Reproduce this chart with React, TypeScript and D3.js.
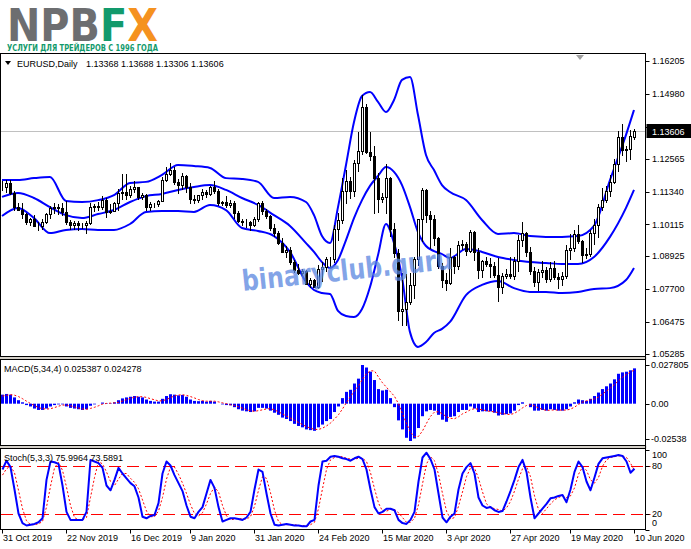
import * as d3 from "d3";

// daily EURUSD candles [open, high, low, close], 31 Oct 2019 .. 10 Jun 2020
const candles: [number, number, number, number][] = [
  [1.1152, 1.1175, 1.1139, 1.1152], [1.1152, 1.1177, 1.1133, 1.1166], [1.1166, 1.1176, 1.1125, 1.1129], [1.1129, 1.1135, 1.1064, 1.1075], [1.1075, 1.1092, 1.1064, 1.1066],
  [1.1066, 1.1092, 1.1036, 1.105], [1.105, 1.1055, 1.1014, 1.1019], [1.1019, 1.1036, 1.101, 1.1032], [1.1032, 1.1048, 1.101, 1.1007], [1.1007, 1.1022, 1.0989, 1.1006],
  [1.1006, 1.1032, 1.0994, 1.1022], [1.1022, 1.1055, 1.1015, 1.1052], [1.1052, 1.1079, 1.1036, 1.1072], [1.1072, 1.109, 1.1054, 1.1077], [1.1077, 1.1087, 1.1052, 1.1073],
  [1.1073, 1.109, 1.1048, 1.1057], [1.1057, 1.1097, 1.1014, 1.102], [1.102, 1.1028, 1.0994, 1.1011], [1.1011, 1.1025, 1.0996, 1.1016], [1.1016, 1.1023, 1.0992, 1.1009],
  [1.1009, 1.1017, 1.0998, 1.1008], [1.1008, 1.1023, 1.0981, 1.1017], [1.1017, 1.109, 1.1012, 1.1078], [1.1078, 1.1088, 1.106, 1.1081], [1.1081, 1.1095, 1.1066, 1.1077],
  [1.1077, 1.1117, 1.107, 1.1104], [1.1104, 1.1111, 1.104, 1.1058], [1.1058, 1.1089, 1.1054, 1.1063], [1.1063, 1.1096, 1.106, 1.1092], [1.1092, 1.1145, 1.1066, 1.113],
  [1.113, 1.12, 1.1107, 1.1131], [1.1131, 1.1199, 1.1107, 1.1121], [1.1121, 1.1154, 1.1115, 1.1144], [1.1144, 1.1174, 1.1134, 1.115], [1.115, 1.1152, 1.1106, 1.1112],
  [1.1112, 1.113, 1.1107, 1.1121], [1.1121, 1.1126, 1.1066, 1.1078], [1.1078, 1.1094, 1.1065, 1.1087], [1.1087, 1.1093, 1.1077, 1.1088], [1.1088, 1.1104, 1.1081, 1.11],
  [1.11, 1.1188, 1.1099, 1.1176], [1.1176, 1.1227, 1.1172, 1.1199], [1.1199, 1.1239, 1.1195, 1.1213], [1.1213, 1.1226, 1.1163, 1.1171], [1.1171, 1.118, 1.1128, 1.116],
  [1.116, 1.1204, 1.1145, 1.1193], [1.1193, 1.1197, 1.1134, 1.1152], [1.1152, 1.1166, 1.1092, 1.1106], [1.1106, 1.112, 1.1093, 1.1104], [1.1104, 1.1122, 1.1096, 1.112],
  [1.112, 1.1144, 1.1106, 1.1133], [1.1133, 1.114, 1.1113, 1.1126], [1.1126, 1.1153, 1.112, 1.115], [1.115, 1.1172, 1.113, 1.1136], [1.1136, 1.1142, 1.1083, 1.1092],
  [1.1092, 1.11, 1.1082, 1.1095], [1.1095, 1.1118, 1.1078, 1.1082], [1.1082, 1.1104, 1.1078, 1.1093], [1.1093, 1.1098, 1.1036, 1.1053], [1.1053, 1.1063, 1.1019, 1.1025],
  [1.1025, 1.1032, 1.101, 1.1019], [1.1019, 1.103, 1.1002, 1.1021], [1.1021, 1.1025, 1.0992, 1.1009], [1.1009, 1.104, 1.1004, 1.1031], [1.1031, 1.1096, 1.1025, 1.1093],
  [1.1093, 1.11, 1.105, 1.1061], [1.1061, 1.107, 1.1036, 1.1043], [1.1043, 1.1046, 1.0992, 1.0999], [1.0999, 1.1013, 1.0968, 1.098], [1.098, 1.0987, 1.094, 1.0944],
  [1.0944, 1.096, 1.0907, 1.091], [1.091, 1.0932, 1.089, 1.0916], [1.0916, 1.0927, 1.0865, 1.0872], [1.0872, 1.0877, 1.0833, 1.084], [1.084, 1.0864, 1.0827, 1.0831],
  [1.0831, 1.0847, 1.0822, 1.0837], [1.0837, 1.0843, 1.0789, 1.079], [1.079, 1.0812, 1.0779, 1.0803], [1.0803, 1.0807, 1.0778, 1.078], [1.078, 1.0862, 1.0775, 1.0847],
  [1.0847, 1.0871, 1.0801, 1.0853], [1.0853, 1.089, 1.0838, 1.0882], [1.0882, 1.0891, 1.0853, 1.0881], [1.0881, 1.1008, 1.0872, 1.0995], [1.0995, 1.1053, 1.0952, 1.1027],
  [1.1027, 1.1186, 1.1015, 1.1137], [1.1137, 1.1213, 1.1092, 1.1175], [1.1175, 1.119, 1.111, 1.1135], [1.1135, 1.125, 1.1118, 1.1239], [1.1239, 1.1356, 1.121, 1.1284],
  [1.1284, 1.1495, 1.1275, 1.145], [1.145, 1.146, 1.1276, 1.1283], [1.1283, 1.1355, 1.1253, 1.1267], [1.1267, 1.1305, 1.1055, 1.1183], [1.1183, 1.1204, 1.1056, 1.1107],
  [1.1107, 1.113, 1.1095, 1.1115], [1.1115, 1.1236, 1.1055, 1.1183], [1.1183, 1.119, 1.097, 1.0995], [1.0995, 1.1015, 1.089, 1.0905], [1.0905, 1.092, 1.0654, 1.069],
  [1.069, 1.0832, 1.0636, 1.0695], [1.0695, 1.0828, 1.0636, 1.0722], [1.0722, 1.083, 1.0715, 1.0785], [1.0785, 1.089, 1.0736, 1.0884], [1.0884, 1.1032, 1.0862, 1.103],
  [1.103, 1.1148, 1.095, 1.114], [1.114, 1.1145, 1.102, 1.1045], [1.1045, 1.1061, 1.0925, 1.1032], [1.1032, 1.1045, 1.0935, 1.0962], [1.0962, 1.0966, 1.085, 1.0856],
  [1.0856, 1.0868, 1.0777, 1.0805], [1.0805, 1.083, 1.0768, 1.0794], [1.0794, 1.0925, 1.079, 1.0891], [1.0891, 1.0894, 1.0831, 1.0856], [1.0856, 1.0951, 1.0845, 1.0936],
  [1.0936, 1.0953, 1.0918, 1.0937], [1.0937, 1.0947, 1.0898, 1.0914], [1.0914, 1.099, 1.091, 1.0985], [1.0985, 1.0988, 1.088, 1.0908], [1.0908, 1.0925, 1.0812, 1.0842],
  [1.0842, 1.088, 1.0815, 1.0874], [1.0874, 1.089, 1.0855, 1.0863], [1.0863, 1.0887, 1.0815, 1.0856], [1.0856, 1.0873, 1.0816, 1.0823], [1.0823, 1.0888, 1.0727, 1.0777],
  [1.0777, 1.0829, 1.0757, 1.082], [1.082, 1.0846, 1.0812, 1.0826], [1.0826, 1.089, 1.0813, 1.0821], [1.0821, 1.0889, 1.0808, 1.0875], [1.0875, 1.0973, 1.0836, 1.0954],
  [1.0954, 1.1019, 1.0932, 1.0981], [1.0981, 1.0984, 1.0895, 1.0909], [1.0909, 1.0927, 1.0825, 1.0839], [1.0839, 1.0854, 1.0782, 1.0797], [1.0797, 1.0847, 1.0767, 1.0834],
  [1.0834, 1.0876, 1.0815, 1.084], [1.084, 1.0852, 1.0795, 1.0808], [1.0808, 1.0873, 1.08, 1.085], [1.085, 1.0876, 1.0809, 1.0815], [1.0815, 1.083, 1.0774, 1.0807],
  [1.0807, 1.0833, 1.0786, 1.0819], [1.0819, 1.0933, 1.0811, 1.0917], [1.0917, 1.0977, 1.0883, 1.0923], [1.0923, 1.0991, 1.0914, 1.0975], [1.0975, 1.1009, 1.0943, 1.095],
  [1.095, 1.0955, 1.0872, 1.0899], [1.0899, 1.0923, 1.0887, 1.0901], [1.0901, 1.0991, 1.0895, 1.0978], [1.0978, 1.103, 1.0937, 1.1008], [1.1008, 1.1088, 1.0966, 1.1078],
  [1.1078, 1.1147, 1.1067, 1.1101], [1.1101, 1.1155, 1.1094, 1.1135], [1.1135, 1.1197, 1.1118, 1.117], [1.117, 1.1257, 1.1165, 1.1235], [1.1235, 1.1361, 1.1212, 1.1337],
  [1.1337, 1.1384, 1.127, 1.129], [1.129, 1.1302, 1.1247, 1.1294], [1.1294, 1.1362, 1.1255, 1.1342], [1.13368, 1.13688, 1.13306, 1.13606],
];

// Bollinger bands at these bar numbers
const bandIdx = [0, 4, 8, 12, 16, 20, 24, 28, 32, 36, 40, 44, 48, 52, 56, 60, 64, 68, 72, 76, 78, 80, 82, 84, 86, 88, 90, 92, 94, 96, 98, 100, 102, 104, 106, 108, 110, 112, 116, 120, 124, 128, 132, 136, 140, 144, 148, 152, 156, 158];
const bandUpper = [1.1177, 1.1177, 1.1184, 1.1188, 1.1099, 1.1095, 1.1102, 1.1121, 1.1166, 1.117, 1.1196, 1.1233, 1.1229, 1.1222, 1.1184, 1.1181, 1.117, 1.111, 1.1114, 1.1095, 1.1046, 1.0968, 1.0942, 1.1076, 1.1233, 1.1393, 1.149, 1.1505, 1.1468, 1.143, 1.1475, 1.155, 1.1561, 1.1419, 1.127, 1.1214, 1.1158, 1.1132, 1.1102, 1.1028, 1.0976, 1.0979, 1.0968, 1.0965, 1.0965, 1.0968, 1.1006, 1.1177, 1.1345, 1.1438];
const bandMiddle = [1.1114, 1.1129, 1.111, 1.1076, 1.1046, 1.1035, 1.105, 1.1065, 1.1095, 1.1117, 1.1125, 1.114, 1.1151, 1.1158, 1.114, 1.111, 1.1084, 1.1046, 1.1006, 1.0942, 1.0909, 1.0871, 1.0849, 1.0879, 1.0953, 1.1035, 1.1102, 1.1155, 1.1192, 1.1225, 1.1207, 1.1158, 1.1076, 1.0983, 1.0931, 1.0912, 1.0901, 1.0886, 1.092, 1.0909, 1.089, 1.0879, 1.0871, 1.0868, 1.0864, 1.0864, 1.089, 1.0965, 1.1073, 1.114];
const bandLower = [1.1043, 1.1073, 1.1035, 1.0979, 1.0991, 1.0994, 1.0991, 1.0991, 1.1013, 1.1058, 1.1061, 1.1061, 1.1058, 1.1084, 1.1065, 1.0998, 1.0987, 1.0968, 1.0909, 1.0797, 1.0767, 1.0756, 1.0752, 1.0689, 1.067, 1.0666, 1.0696, 1.0778, 1.0897, 1.1013, 1.0942, 1.0815, 1.061, 1.0555, 1.0573, 1.0607, 1.0622, 1.0648, 1.0748, 1.0786, 1.0801, 1.0774, 1.076, 1.076, 1.0756, 1.076, 1.0771, 1.0774, 1.0804, 1.0849];

// MACD(5,34,4): histogram (main) and dotted signal
const macdMain = [
  0.0065, 0.007, 0.0065, 0.0045, 0.0025, 0.001, -0.001, -0.002, -0.0035, -0.0045,
  -0.0045, -0.0035, -0.002, -0.001, -0.0005, -0.0005, -0.002, -0.003, -0.0035, -0.004,
  -0.0045, -0.004, -0.0015, -0.0005, 0.0, 0.0008, 0.0003, 0.0003, 0.001, 0.0025,
  0.0038, 0.0045, 0.005, 0.0055, 0.005, 0.0045, 0.003, 0.002, 0.0015, 0.0015,
  0.0035, 0.0055, 0.0068, 0.0065, 0.006, 0.0063, 0.005, 0.003, 0.002, 0.0018,
  0.002, 0.0015, 0.002, 0.0015, 0.0, -0.0005, -0.001, -0.0012, -0.0025, -0.004,
  -0.005, -0.0055, -0.006, -0.0055, -0.003, -0.003, -0.0035, -0.005, -0.0065, -0.008,
  -0.01, -0.011, -0.0125, -0.0145, -0.016, -0.017, -0.0185, -0.019, -0.0195, -0.017,
  -0.015, -0.0125, -0.011, -0.006, -0.002, 0.004, 0.0085, 0.01, 0.0145, 0.018,
  0.0278, 0.026, 0.023, 0.017, 0.0105, 0.0095, 0.01, 0.004, -0.0025, -0.012,
  -0.0185, -0.0245, -0.0268, -0.025, -0.0175, -0.009, -0.0055, -0.0045, -0.005, -0.008,
  -0.0115, -0.013, -0.0095, -0.009, -0.006, -0.0045, -0.0045, -0.002, -0.0035, -0.006,
  -0.0055, -0.0055, -0.0055, -0.0065, -0.0085, -0.008, -0.0075, -0.007, -0.005, -0.001,
  0.001, 0.0, -0.0025, -0.005, -0.005, -0.0045, -0.005, -0.004, -0.0045, -0.005,
  -0.005, -0.004, -0.002, 0.001, 0.003, 0.0025, 0.002, 0.0035, 0.0055, 0.008,
  0.0105, 0.0125, 0.0145, 0.0175, 0.0215, 0.0225, 0.023, 0.024, 0.025387,
];
const macdSignal = [
  0.0055, 0.006, 0.0065, 0.0061, 0.0051, 0.0036, 0.0018, 0.0001, -0.0014, -0.0028,
  -0.0036, -0.0039, -0.0036, -0.0028, -0.0018, -0.001, -0.001, -0.0015, -0.0023, -0.0031,
  -0.0038, -0.004, -0.0034, -0.0026, -0.0015, -0.0003, 0.0002, 0.0004, 0.0006, 0.001,
  0.0019, 0.0029, 0.0039, 0.0047, 0.005, 0.005, 0.0045, 0.0036, 0.0028, 0.002,
  0.0021, 0.003, 0.0043, 0.0056, 0.0062, 0.0064, 0.006, 0.0051, 0.0041, 0.003,
  0.0022, 0.0018, 0.0018, 0.0018, 0.0013, 0.0006, 0.0, -0.0007, -0.0013, -0.0022,
  -0.0032, -0.0043, -0.0051, -0.0055, -0.005, -0.0044, -0.0038, -0.0036, -0.0045, -0.0058,
  -0.0074, -0.0089, -0.0104, -0.012, -0.0135, -0.015, -0.0165, -0.0176, -0.0185, -0.0185,
  -0.0176, -0.016, -0.0139, -0.0111, -0.0079, -0.0038, 0.0009, 0.0051, 0.0093, 0.0128,
  0.0176, 0.0215, 0.0237, 0.0235, 0.0191, 0.015, 0.0118, 0.0085, 0.0053, -0.0001,
  -0.0073, -0.0143, -0.0205, -0.0237, -0.0235, -0.0196, -0.0141, -0.0091, -0.006, -0.0058,
  -0.0073, -0.0094, -0.0105, -0.0108, -0.0094, -0.0073, -0.006, -0.0043, -0.0036, -0.004,
  -0.0043, -0.0051, -0.0056, -0.0058, -0.0065, -0.0071, -0.0076, -0.0078, -0.0069, -0.0051,
  -0.003, -0.0013, -0.0006, -0.0016, -0.0031, -0.0041, -0.0049, -0.0046, -0.0045, -0.0046,
  -0.0046, -0.0046, -0.0039, -0.0025, -0.0005, 0.0011, 0.0021, 0.0028, 0.0034, 0.0048,
  0.0069, 0.0091, 0.0114, 0.0138, 0.0165, 0.019, 0.021, 0.0228, 0.024278,
];

// Stochastic(5,3,3): main (blue) and signal (red dotted)
const stochMain = [
  75, 86, 78, 50, 20, 8, 5, 6, 7, 9,
  14, 62, 85, 84, 82, 55, 22, 12, 12, 12,
  12, 22, 87, 85, 83, 77, 55, 49, 62, 77,
  70, 64, 58, 54, 40, 16, 14, 17, 18, 33,
  70, 85, 80, 68, 58, 48, 30, 16, 14, 22,
  28, 45, 62, 52, 28, 10, 12, 14, 14, 13,
  12, 15, 22, 50, 75, 72, 45, 20, 6, 5,
  6, 7, 6, 5, 5, 4, 4, 10, 12, 55,
  85, 86, 91, 92, 91, 89, 88, 86, 89, 91,
  88, 75, 50, 28, 20, 22, 26, 26, 24, 12,
  8, 7, 12, 22, 60, 90, 96, 88, 75, 45,
  15, 9, 16, 20, 50, 70, 78, 83, 70, 40,
  30, 27, 28, 24, 22, 23, 35, 48, 62, 78,
  87, 72, 40, 14, 20, 26, 32, 39, 40, 42,
  43, 34, 50, 72, 85, 78, 60, 49, 65, 82,
  89, 90, 91, 92, 93, 92, 85, 71, 75.9964,
];
const stochSignal = [
  68, 76, 79, 71, 49, 26, 11, 6, 6, 7,
  10, 28, 54, 77, 84, 74, 53, 30, 15, 12,
  12, 15, 40, 65, 85, 82, 72, 60, 55, 63,
  70, 70, 64, 59, 51, 37, 23, 16, 16, 23,
  40, 63, 78, 78, 69, 58, 45, 31, 20, 17,
  21, 32, 45, 53, 47, 30, 17, 12, 13, 14,
  13, 13, 16, 29, 49, 66, 64, 46, 24, 10,
  6, 6, 6, 6, 5, 5, 4, 6, 9, 26,
  51, 75, 87, 90, 91, 91, 89, 88, 88, 89,
  89, 85, 71, 51, 33, 23, 23, 25, 25, 21,
  15, 9, 9, 14, 31, 57, 82, 91, 86, 69,
  45, 23, 13, 15, 29, 47, 66, 77, 77, 64,
  47, 32, 28, 26, 25, 23, 27, 35, 48, 63,
  76, 79, 66, 42, 25, 20, 26, 32, 37, 40,
  42, 40, 42, 52, 69, 78, 74, 62, 58, 65,
  79, 87, 90, 91, 92, 92, 90, 83, 73.5891,
];

const timeTickIdx = [0, 16, 32, 47, 63, 79, 95, 111, 127, 142, 158];
const timeTickLabels = ["31 Oct 2019", "22 Nov 2019", "16 Dec 2019", "9 Jan 2020", "31 Jan 2020", "24 Feb 2020", "15 Mar 2020", "3 Apr 2020", "27 Apr 2020", "19 May 2020", "10 Jun 2020"];
const priceTicks = [1.16205, 1.1498, 1.13755, 1.12565, 1.1134, 1.10115, 1.08925, 1.077, 1.06475, 1.05285];
const macdTicks = [0.027805, 0, -0.02538];
const macdTickLabels = ["0.027805", "0.00", "-0.02538"];
const stochTicks = [100, 80, 20, 0];
const stochLevels = [80, 20];
const lastPrice = 1.13606;

const FONT = "'Liberation Sans', Arial, sans-serif";

export default function App() {
  const W = 691;
  const H = 549;
  const right = 645.5;
  const main = { top: 53.5, bottom: 356.5 };
  const macdP = { top: 359.5, bottom: 445.5 };
  const stochP = { top: 448.5, bottom: 529.5 };

  const x = d3.scaleLinear([0, candles.length - 1], [2, 634]);
  const y = d3.scaleLinear([1.05285, 1.16205], [354, 61]);
  const ym = d3.scaleLinear([-0.02538, 0.027805], [439, 365]);
  const ys = d3.scaleLinear([0, 100], [stochP.bottom, stochP.top + 1]);

  const band = d3
    .line<number>()
    .x((_, i) => x(bandIdx[i]))
    .y((d) => y(d))
    .curve(d3.curveMonotoneX);
  const macdLine = d3
    .line<number>()
    .x((_, i) => x(i) + 0.5)
    .y((d) => ym(d));
  const stochLine = d3
    .line<number>()
    .x((_, i) => x(i) + 0.5)
    .y((d) => ys(d));

  const yLast = Math.round(y(lastPrice)) + 0.5;

  return (
    <svg
      width={W}
      height={H}
      style={{ position: "absolute", left: 0, top: 0, background: "#fff" }}
      fontFamily={FONT}
      fontSize={9}
    >
      <rect width={W} height={H} fill="#fff" />

      {/* logo */}
      <text x={7} y={41} fontFamily="'DejaVu Sans', sans-serif" fontWeight="bold" fontSize={45} textLength={151} lengthAdjust="spacingAndGlyphs">
        <tspan fill="#6d6e70">NPB</tspan>
        <tspan fill="#129a6c">F</tspan>
        <tspan fill="#f5921f">X</tspan>
      </text>
      <text x={7} y={51} fill="#129a6c" fontFamily="'DejaVu Sans', sans-serif" fontWeight="bold" fontSize={9.5} textLength={151} lengthAdjust="spacingAndGlyphs">
        УСЛУГИ ДЛЯ ТРЕЙДЕРОВ С 1996 ГОДА
      </text>

      {/* panel separators */}
      <rect x={0} y={main.bottom} width={right + 1} height={macdP.top - main.bottom} fill="#d4d0c8" />
      <rect x={0} y={macdP.bottom} width={right + 1} height={stochP.top - macdP.bottom} fill="#d4d0c8" />

      {/* frames */}
      {[main, macdP, stochP].map((p, i) => (
        <rect key={i} x={0.5} y={p.top} width={right - 0.5} height={p.bottom - p.top} fill="#fff" stroke="#000" />
      ))}

      {/* price axis */}
      {priceTicks.map((p) => (
        <g key={p}>
          <line x1={right} x2={right + 4} y1={Math.round(y(p)) + 0.5} y2={Math.round(y(p)) + 0.5} stroke="#000" />
          <text x={652} y={y(p)} dy="0.35em" fill="#000">
            {p.toFixed(5)}
          </text>
        </g>
      ))}

      {/* last price line */}
      <line x1={1} x2={right} y1={yLast} y2={yLast} stroke="#c0c0c0" />

      {/* bollinger bands */}
      {[bandUpper, bandMiddle, bandLower].map((b, i) => (
        <path key={i} d={band(b) as string} fill="none" stroke="#0000ff" strokeWidth={2} />
      ))}

      {/* candles */}
      {candles.map(([o, h, l, c], i) => {
        const cx = Math.round(x(i));
        const yt = Math.round(y(Math.max(o, c)));
        const yb = Math.round(y(Math.min(o, c)));
        return (
          <g key={i}>
            <line x1={cx + 0.5} x2={cx + 0.5} y1={Math.round(y(h))} y2={Math.round(y(l)) + 1} stroke="#000" />
            <rect x={cx - 0.5} y={yt + 0.5} width={2} height={Math.max(0, yb - yt)} fill={c >= o ? "#fff" : "#000"} stroke="#000" />
          </g>
        );
      })}

      {/* watermark */}
      <text
        x={243}
        y={291}
        transform="rotate(-6 243 291)"
        fill="#5a86e0"
        fillOpacity={0.75}
        fontFamily="'DejaVu Sans', sans-serif"
        fontWeight="bold"
        fontSize={29}
        textLength={212}
        lengthAdjust="spacingAndGlyphs"
      >
        binaryclub.guru
      </text>

      {/* header */}
      <polygon points="5,61 11,61 8,65" fill="#000" />
      <text x={17} y={66.5} fill="#000">EURUSD,Daily</text>
      <text x={86} y={66.5} fill="#000">
        {`${candles[candles.length - 1].map((v) => v.toFixed(5)).join(" ")}`}
      </text>
      <polygon points="576,55 584,55 580,60" fill="#a0a0a0" />

      {/* last price tag */}
      <rect x={right + 1} y={yLast - 7.5} width={W - right - 1} height={14} fill="#000" />
      <text x={652} y={yLast} dy="0.35em" fill="#fff">
        {lastPrice.toFixed(5)}
      </text>

      {/* MACD */}
      {macdMain.map((v, i) => {
        const cx = Math.round(x(i));
        const y0 = ym(0);
        const y1 = ym(v);
        return <rect key={i} x={cx - 1} y={Math.min(y0, y1)} width={3} height={Math.abs(y1 - y0)} fill="#0000ff" />;
      })}
      <path d={macdLine(macdSignal) as string} fill="none" stroke="#ff0000" strokeWidth={1} strokeDasharray="2,2" />
      <text x={4} y={371.5} fill="#000">
        {`MACD(5,34,4) ${macdMain[macdMain.length - 1].toFixed(6)} ${macdSignal[macdSignal.length - 1].toFixed(6)}`}
      </text>
      {macdTicks.map((v, i) => (
        <g key={v}>
          <line x1={right} x2={right + 4} y1={Math.round(ym(v)) + 0.5} y2={Math.round(ym(v)) + 0.5} stroke="#000" />
          <text x={651} y={ym(v)} dy="0.35em" fill="#000">
            {macdTickLabels[i]}
          </text>
        </g>
      ))}

      {/* Stochastic */}
      {stochLevels.map((lv) => (
        <line key={lv} x1={1} x2={right + 5} y1={Math.round(ys(lv)) + 0.5} y2={Math.round(ys(lv)) + 0.5} stroke="#ff0000" strokeDasharray="12,6" />
      ))}
      <path d={stochLine(stochSignal) as string} fill="none" stroke="#ff0000" strokeWidth={1} strokeDasharray="2,2" />
      <path d={stochLine(stochMain) as string} fill="none" stroke="#0000ff" strokeWidth={2} strokeLinejoin="round" />
      <text x={4} y={460.5} fill="#000">
        {`Stoch(5,3,3) ${stochMain[stochMain.length - 1].toFixed(4)} ${stochSignal[stochSignal.length - 1].toFixed(4)}`}
      </text>
      {stochTicks.map((v) => {
        const yy = Math.min(Math.max(ys(v), stochP.top + 6), stochP.bottom - 7);
        return (
          <g key={v}>
            <line x1={right} x2={right + 4} y1={Math.round(ys(v)) + 0.5} y2={Math.round(ys(v)) + 0.5} stroke="#000" />
            <text x={652} y={yy} dy="0.35em" fill="#000">
              {v}
            </text>
          </g>
        );
      })}

      {/* right border over everything */}
      <line x1={right} x2={right} y1={main.top} y2={stochP.bottom} stroke="#000" />

      {/* time axis */}
      {timeTickIdx.map((idx, i) => {
        const tx = Math.round(x(idx)) + 0.5;
        return (
          <g key={idx}>
            <line x1={tx} x2={tx} y1={stochP.bottom} y2={stochP.bottom + 4} stroke="#000" />
            <text x={tx + 0.5} y={541} fill="#000">
              {timeTickLabels[i]}
            </text>
          </g>
        );
      })}
    </svg>
  );
}
